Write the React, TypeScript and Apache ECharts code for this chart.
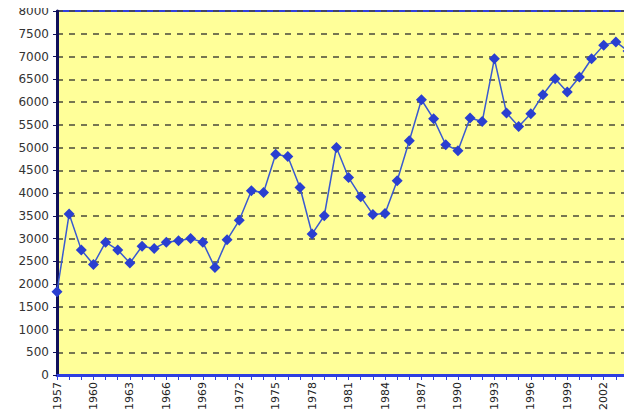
import React, { useEffect, useRef } from "react";
import * as echarts from "echarts";

const years: string[] = [];
for (let y = 1957; y <= 2004; y++) years.push(String(y));

const values = [
  1830, 3540, 2750, 2430, 2920, 2750, 2460, 2830, 2780, 2920,
  2950, 3000, 2920, 2360, 2970, 3400, 4050, 4010, 4850, 4800,
  4120, 3100, 3500, 5000, 4340, 3920, 3530, 3550, 4270, 5150,
  6050, 5630, 5060, 4930, 5650, 5570, 6950, 5760, 5460, 5740,
  6160, 6510, 6220, 6550, 6950, 7250, 7320, 7120,
];

export default function App() {
  const ref = useRef<HTMLDivElement>(null);
  useEffect(() => {
    if (!ref.current) return;
    const chart = echarts.init(ref.current, undefined, { renderer: "svg" });
    chart.setOption({
      animation: false,
      backgroundColor: "#ffffff",
      grid: {
        left: 57,
        right: 4,
        top: 11,
        bottom: 42,
        show: true,
        backgroundColor: "#FFFF99",
        borderColor: "#3040e0",
        borderWidth: 2,
      },
      xAxis: {
        type: "category",
        data: years,
        boundaryGap: false,
        axisLine: { lineStyle: { color: "#2f3fe0", width: 3 } },
        axisTick: {
          show: true,
          interval: 0,
          length: 5,
          lineStyle: { color: "#2f3fe0", width: 1 },
        },
        axisLabel: {
          interval: 2,
          rotate: 90,
          color: "#222",
          fontFamily: "DejaVu Sans",
          fontSize: 11,
          margin: 7,
        },
        splitLine: { show: false },
      },
      yAxis: {
        type: "value",
        min: 0,
        max: 8000,
        interval: 500,
        axisLine: { show: true, lineStyle: { color: "#10105a", width: 3 } },
        axisTick: { show: true, length: 4, lineStyle: { color: "#10105a" } },
        axisLabel: {
          color: "#333",
          fontFamily: "DejaVu Sans",
          fontSize: 12,
          margin: 8,
          formatter: (v: number) => String(v),
        },
        splitLine: {
          show: true,
          lineStyle: { color: "#4a4a3a", type: [6, 6], width: 1.5 },
        },
      },
      series: [
        {
          type: "line",
          data: values,
          symbol: "diamond",
          symbolSize: 11,
          showAllSymbol: true,
          itemStyle: { color: "#2a3fd0" },
          lineStyle: { color: "#3a5ad0", width: 1.5 },
        },
      ],
    });
    return () => chart.dispose();
  }, []);
  return <div ref={ref} style={{ width: 632, height: 417, marginLeft: -8, marginTop: -8 }} />;
}
